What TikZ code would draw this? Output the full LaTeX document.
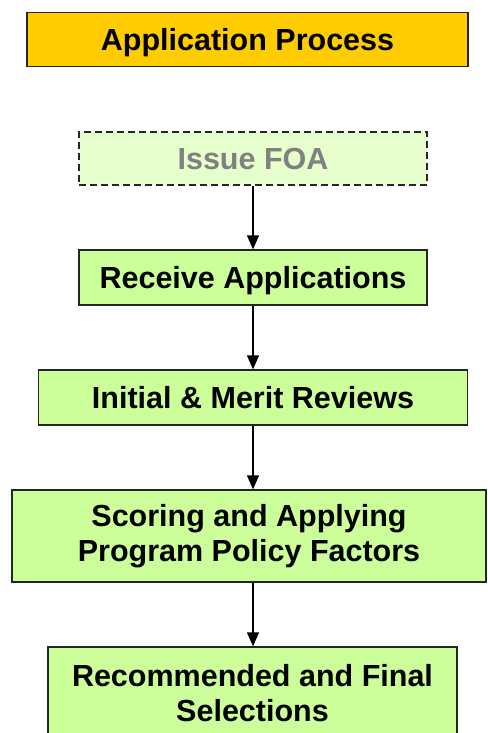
\documentclass[tikz,border=0pt]{standalone}
\usepackage{fontspec}
\setmainfont{Liberation Sans}
\usetikzlibrary{arrows.meta}
\definecolor{titlefill}{HTML}{FFCC00}
\definecolor{boxfill}{HTML}{CCFF99}
\definecolor{ghostfill}{HTML}{E6FFCC}
\definecolor{ghosttext}{HTML}{808080}
\tikzset{
  stepbox/.style={draw=black!85, line width=1.3pt, fill=boxfill, inner sep=0pt, align=center,
    font=\fontsize{30.5}{35}\selectfont\bfseries},
  oneline/.style={text height=22pt, text depth=0pt},
  titlebox/.style={stepbox, oneline, fill=titlefill},
  ghostbox/.style={stepbox, oneline, fill=ghostfill, dash pattern=on 7pt off 4pt, text=ghosttext},
  flow/.style={line width=1.3pt, -{Triangle[length=14pt,width=12pt]}}
}
\begin{document}
\begin{tikzpicture}[x=1pt,y=-1pt]
\useasboundingbox (0,0) rectangle (487,733);
\node[titlebox, minimum width=441pt, minimum height=54pt] (title) at (247.5,39.5) {Application Process};
\node[ghostbox, minimum width=348pt, minimum height=53pt] (issue) at (253,158.5) {Issue FOA};
\node[stepbox, oneline, minimum width=348pt, minimum height=55pt] (receive) at (253,277.5) {Receive Applications};
\node[stepbox, oneline, minimum width=429pt, minimum height=55pt] (initial) at (253,397.5) {Initial \& Merit Reviews};
\node[stepbox, minimum width=474pt, minimum height=92pt] (scoring) at (249,536) {Scoring and Applying\\Program Policy Factors};
\node[stepbox, minimum width=409pt, minimum height=93pt] (final) at (252.5,693.5) {Recommended and Final\\Selections};
\draw[flow] (issue.south) -- (receive.north);
\draw[flow] (receive.south) -- (initial.north);
\draw[flow] (initial.south) -- (initial.south |- scoring.north);
\draw[flow] (initial.south |- scoring.south) -- (initial.south |- final.north);
\end{tikzpicture}
\end{document}
